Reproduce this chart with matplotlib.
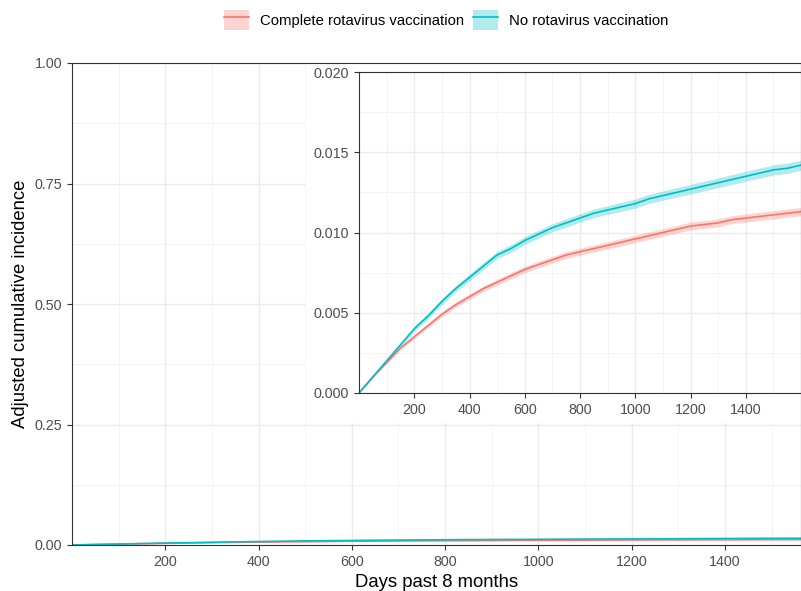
import matplotlib.pyplot as plt
import numpy as np
from matplotlib.lines import Line2D
from matplotlib.patches import Patch, Rectangle

plt.rcParams['font.family'] = ['Liberation Sans', 'DejaVu Sans']

days = [0, 50, 100, 150, 200, 250, 300, 350, 400, 450, 500, 550, 600, 650, 700, 750, 800,
        850, 900, 950, 1000, 1050, 1100, 1150, 1200, 1250, 1300, 1350, 1400, 1450, 1500, 1550, 1600]

no_vacc = [0, 0.0010, 0.0020, 0.0030, 0.0040, 0.0048, 0.0057, 0.0065, 0.0072, 0.0079, 0.0086,
           0.0090, 0.0095, 0.0099, 0.0103, 0.0106, 0.0109, 0.0112, 0.0114, 0.0116, 0.0118,
           0.0121, 0.0123, 0.0125, 0.0127, 0.0129, 0.0131, 0.0133, 0.0135, 0.0137, 0.0139,
           0.0140, 0.0142]
no_vacc_ci = [0, 0.00005, 0.0001, 0.00012, 0.00015, 0.00017, 0.00019, 0.0002, 0.00021, 0.00022,
              0.00023, 0.00024, 0.00024, 0.00025, 0.00025, 0.00026, 0.00026, 0.00027, 0.00027,
              0.00028, 0.00028, 0.00028, 0.00029, 0.00029, 0.0003, 0.0003, 0.0003, 0.00031,
              0.00031, 0.00031, 0.00032, 0.00032, 0.00032]

complete = [0, 0.0010, 0.0019, 0.0028, 0.0035, 0.0042, 0.0049, 0.0055, 0.0060, 0.0065, 0.0069,
            0.0073, 0.0077, 0.0080, 0.0083, 0.0086, 0.0088, 0.0090, 0.0092, 0.0094, 0.0096,
            0.0098, 0.0100, 0.0102, 0.0104, 0.0105, 0.0106, 0.0108, 0.0109, 0.0110, 0.0111,
            0.0112, 0.0113]
complete_ci = [0, 0.00004, 0.00008, 0.0001, 0.00012, 0.00013, 0.00015, 0.00016, 0.00017, 0.00018,
               0.00019, 0.0002, 0.0002, 0.00021, 0.00021, 0.00022, 0.00022, 0.00022, 0.00023,
               0.00023, 0.00023, 0.00024, 0.00024, 0.00024, 0.00025, 0.00025, 0.00025, 0.00025,
               0.00026, 0.00026, 0.00026, 0.00026, 0.00026]

labels = ["Complete rotavirus vaccination", "No rotavirus vaccination"]
red = "#F8766D"
teal = "#00BFC4"

d = np.array(days)
series = [(np.array(complete), np.array(complete_ci), red),
          (np.array(no_vacc), np.array(no_vacc_ci), teal)]

fig = plt.figure(figsize=(8.01, 5.91), dpi=100)


def style(ax, ymax, yticks, yfmt, xlim_max):
    ax.set_xlim(0, xlim_max)
    ax.set_ylim(0, ymax)
    ax.set_xticks(np.arange(200, 1600, 200))
    ax.set_xticks(np.arange(100, 1700, 200), minor=True)
    ax.set_yticks(yticks)
    ax.set_yticklabels([yfmt.format(v) for v in yticks])
    ax.set_yticks((yticks[:-1] + yticks[1:]) / 2, minor=True)
    ax.grid(True, which='major', color='#EBEBEB', lw=1.0)
    ax.grid(True, which='minor', color='#F2F2F2', lw=0.6)
    ax.set_axisbelow(True)
    for s in ax.spines.values():
        s.set_color('#333333')
        s.set_linewidth(0.8)
    ax.tick_params(which='major', length=3.5, color='#333333', labelsize=10.3,
                   labelcolor='#4D4D4D', width=0.8)
    ax.tick_params(which='minor', length=0)


ax = fig.add_axes([72 / 801, 46 / 591, 1 - 72 / 801, 482 / 591])
style(ax, 1.0, np.array([0, 0.25, 0.5, 0.75, 1.0]), "{:.2f}", 1563)
for y, ci, c in series:
    ax.fill_between(d, y - ci, y + ci, color=c, alpha=0.3, lw=0)
    ax.plot(d, y, color=c, lw=1.2)
ax.set_xlabel("Days past 8 months", fontsize=13.3)
ax.set_ylabel("Adjusted cumulative incidence", fontsize=13.3)
# white background of the inset plot (covers its tick labels too)
ax.add_patch(Rectangle((306 / 801, 168 / 591), 1, 360 / 591, transform=fig.transFigure,
                       facecolor='white', edgecolor='none', zorder=1.5))

ins = fig.add_axes([359 / 801, 198 / 591, 1 - 359 / 801, 321 / 591])
ins.set_facecolor('white')
style(ins, 0.020, np.array([0, 0.005, 0.010, 0.015, 0.020]), "{:.3f}", 1600)
for y, ci, c in series:
    ins.fill_between(d, y - ci, y + ci, color=c, alpha=0.3, lw=0)
    ins.plot(d, y, color=c, lw=1.2)

handles = []
for lab, c in zip(labels, [red, teal]):
    handles.append((Patch(facecolor=c, alpha=0.3, edgecolor='none'), Line2D([], [], color=c, lw=1.2)))
fig.legend(handles, labels, loc='center', bbox_to_anchor=(446 / 801, 1 - 20 / 591), ncol=2,
           frameon=False, fontsize=10.7, handlelength=1.7, handleheight=1.7, columnspacing=0.6,
           handletextpad=0.7)

fig.savefig("out.png", dpi=100)
